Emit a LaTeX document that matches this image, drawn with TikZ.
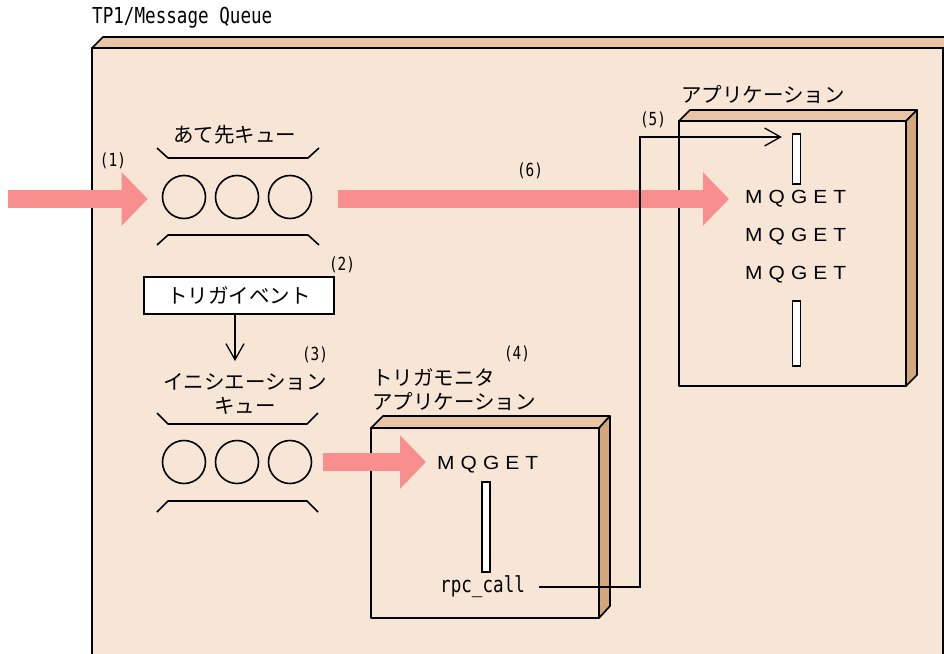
\documentclass[tikz,border=0pt]{standalone}
\usepackage{fontspec}
\usepackage{xcolor}
\usepackage{tikz}
\usetikzlibrary{arrows.meta,calc}

\newfontfamily\jpfont{Noto Sans CJK JP}
\newfontfamily\codefont[FakeStretch=0.8]{DejaVu Sans Mono}
\newfontfamily\getfont[FakeStretch=1.1,LetterSpace=32]{Liberation Sans}

\definecolor{paper}{RGB}{247,230,214}
\definecolor{facetop}{RGB}{232,197,165}
\definecolor{faceside}{RGB}{212,167,122}
\definecolor{flowpink}{RGB}{249,142,142}

\tikzset{
  jp/.style={font=\jpfont\fontsize{20.5}{24}\selectfont, inner sep=0pt},
  code/.style={font=\codefont\fontsize{22}{24}\selectfont, inner sep=0pt},
  num/.style={font=\codefont\fontsize{18}{20}\selectfont, inner sep=0pt},
  call/.style={font=\getfont\fontsize{19}{22}\selectfont, inner sep=0pt},
  slot/.style={circle, draw, line width=1.6pt, minimum size=43pt, inner sep=0pt},
  bar/.style={draw, fill=white, line width=1.3pt, minimum width=8pt, inner sep=0pt},
  face/.style={draw, line width=1.6pt, line join=round, outer sep=0pt},
  flow/.style={line width=18pt, draw=flowpink, -{Triangle[length=26pt,width=52pt]}},
  link/.style={line width=1.3pt, -{Straight Barb[length=16pt,width=18pt]}},
}

\begin{document}
\begin{tikzpicture}[x=1pt, y=-1pt]
    \clip (0,0) rectangle (944,653);

    % Message queue frame
    \fill[paper] (92,48) rectangle (943,680);
    \draw[face, fill=facetop] (92,48) -- (103,37) -- (960,37) -- (960,48) -- cycle;
    \draw[face] (92,680) -- (92,48) -- (943,48) -- (943,680);
    \node[code, anchor=west] (title) at (92,18) {TP1/Message Queue};

    % Destination queue
    \node[slot] (a1) at (184,197) {};
    \node[slot] (a2) at (237,197) {};
    \node[slot] (a3) at (290,197) {};
    \draw[face] (157,148) -- (168,158) -- (308,158) -- (319,148);
    \draw[face] (157,245) -- (168,235) -- (308,235) -- (319,245);
    \node[jp] (destq) at (235,135) {あて先キュー};

    % Trigger event
    \node[jp, draw, fill=white, line width=1.3pt, minimum width=190pt, minimum height=37pt] (trig) at (239,295.5) {トリガイベント};
    \coordinate (trigtip) at (235,361);
    \draw[link] (trig.south -| trigtip) -- (trigtip);

    % Initiation queue
    \node[jp, align=center] (initq) at (245,393.5) {イニシエーション\\キュー};
    \node[slot] (b1) at (184,462) {};
    \node[slot] (b2) at (237,462) {};
    \node[slot] (b3) at (290,462) {};
    \draw[face] (157,413) -- (168,424) -- (307,424) -- (318,413);
    \draw[face] (157,512) -- (168,501) -- (307,501) -- (318,512);

    % Trigger monitor application
    \node[face, fill=paper, minimum width=228pt, minimum height=190pt] (tmbox) at (485,523) {};
    \draw[face, fill=facetop] (tmbox.north west) -- ++(12,-12) -- ($(tmbox.north east)+(11,-12)$) -- (tmbox.north east) -- cycle;
    \draw[face, fill=faceside] (tmbox.north east) -- ++(11,-12) -- ($(tmbox.south east)+(11,-12)$) -- (tmbox.south east) -- cycle;
    \node[jp, align=left, anchor=west] (tmlbl) at (372,390) {トリガモニタ\\アプリケーション};
    \node[call, anchor=west] (tmget) at (437,465) {MQGET};
    \node[bar, minimum height=90pt] (tmbar) at (486,527) {};
    \node[code, anchor=west] (rpc) at (440,587) {rpc\_call};

    % Application
    \node[face, fill=paper, minimum width=227pt, minimum height=265pt] (appbox) at (792.5,253.5) {};
    \draw[face, fill=facetop] (appbox.north west) -- ++(11,-11) -- ($(appbox.north east)+(11,-11)$) -- (appbox.north east) -- cycle;
    \draw[face, fill=faceside] (appbox.north east) -- ++(11,-11) -- ($(appbox.south east)+(11,-11)$) -- (appbox.south east) -- cycle;
    \node[jp, anchor=west] (applbl) at (681,95) {アプリケーション};
    \node[bar, minimum height=50pt] (bar1) at (796.5,159) {};
    \node[call, anchor=west] (get1) at (745,199) {MQGET};
    \node[call, anchor=west] (get2) at (745,237) {MQGET};
    \node[call, anchor=west] (get3) at (745,275) {MQGET};
    \node[bar, minimum height=65pt] (bar2) at (796.5,333.5) {};

    % Message flow
    \coordinate (feed) at (8,199);
    \draw[flow] (feed) -- ($(feed -| a1.west)+(-14,0)$);
    \draw[flow] ($(a3.east |- feed)+(26,0)$) -- ($(appbox.west |- feed)+(50,0)$);
    \draw[flow] ($(b3.east)+(11,0)$) -- ($(tmbox.west |- b3.east)+(55,0)$);

    % Trigger call
    \coordinate (turn5) at (640,137);
    \draw[link] ($(rpc.east)+(14,0)$) -| (turn5) -- ($(bar1.west |- turn5)+(-10,0)$);

    % Step numbers
    \node[num] (n1) at (113,161) {(1)};
    \node[num] (n2) at (342,265) {(2)};
    \node[num] (n3) at (315,355) {(3)};
    \node[num] (n4) at (517,354) {(4)};
    \node[num] (n5) at (653,120) {(5)};
    \node[num] (n6) at (530,171) {(6)};
\end{tikzpicture}
\end{document}
